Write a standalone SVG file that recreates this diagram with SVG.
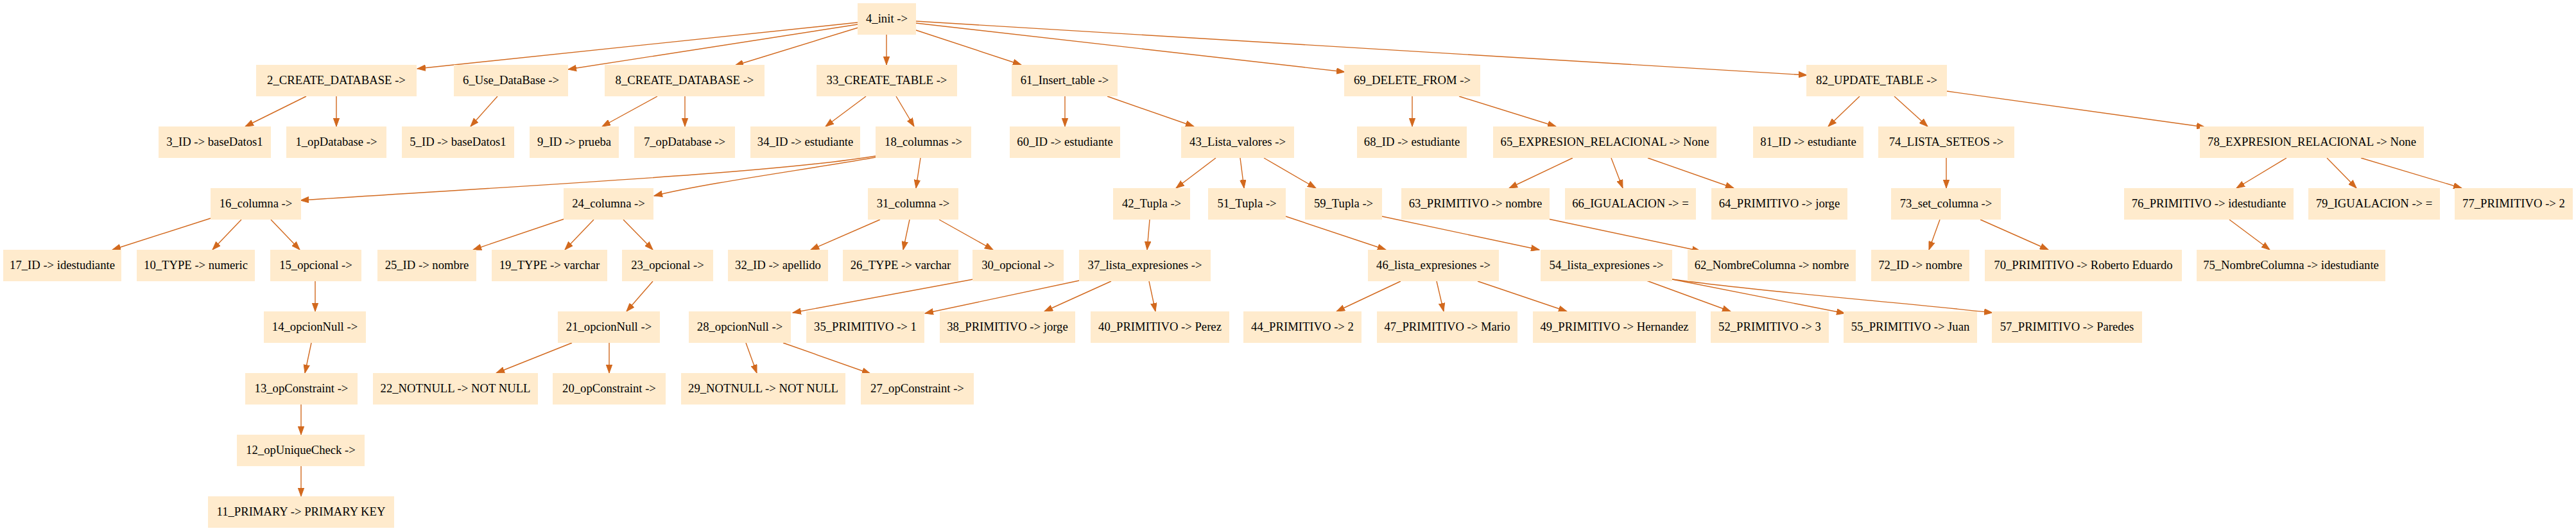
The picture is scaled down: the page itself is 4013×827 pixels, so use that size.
<svg xmlns="http://www.w3.org/2000/svg" width="4013" height="827" viewBox="0 0 4013 827">
<style>
.n rect{fill:#FFEBCD;stroke:none}
.n text{font-family:"Liberation Serif","Times New Roman",serif;font-size:18.67px;fill:#000;text-anchor:middle}
.e path{fill:none;stroke:#D2691E;stroke-width:1.4;marker-end:url(#a)}
</style>
<defs>
<marker id="a" markerUnits="userSpaceOnUse" markerWidth="14" markerHeight="10" refX="13" refY="5" orient="auto">
<path d="M0,0.3 L13,5 L0,9.7 z" fill="#D2691E" stroke="#D2691E" stroke-width="1"/>
</marker>
</defs>
<rect width="4013" height="827" fill="#fff"/>
<g id="edges" class="e">
<path d="M1336,35 L650,107"/>
<path d="M1336,38 L885,108"/>
<path d="M1337,43 L1145,102"/>
<path d="M1381,54 L1381,101"/>
<path d="M1427,47 L1591,101"/>
<path d="M1427,36 L2095,112"/>
<path d="M1427,33 L2815,117"/>
<path d="M477,150 L382,197"/>
<path d="M524,150 L524,197"/>
<path d="M775,150 L733,197"/>
<path d="M1024,150 L938,197"/>
<path d="M1067,150 L1067,197"/>
<path d="M1349,150 L1286,197"/>
<path d="M1396,150 L1424,197"/>
<path d="M1364,243 C1200,270 800,290 468,312"/>
<path d="M1364,245 C1250,265 1100,285 1019,305"/>
<path d="M1434,246 L1427,293"/>
<path d="M328,340 L175,389"/>
<path d="M376,342 L331,389"/>
<path d="M422,342 L467,389"/>
<path d="M879,341 L737,389"/>
<path d="M925,342 L880,389"/>
<path d="M971,342 L1017,389"/>
<path d="M1371,342 L1263,389"/>
<path d="M1417,342 L1407,389"/>
<path d="M1463,342 L1547,389"/>
<path d="M491,438 L491,485"/>
<path d="M485,534 L475,581"/>
<path d="M469,630 L469,677"/>
<path d="M469,726 L469,773"/>
<path d="M1017,438 L976,485"/>
<path d="M891,534 L773,581"/>
<path d="M949,534 L949,581"/>
<path d="M1516,435 L1235,487"/>
<path d="M1162,534 L1179,581"/>
<path d="M1220,534 L1356,582"/>
<path d="M1659,150 L1659,197"/>
<path d="M1725,150 L1860,197"/>
<path d="M1894,246 L1832,293"/>
<path d="M1932,246 L1938,293"/>
<path d="M1969,246 L2050,293"/>
<path d="M1791,342 L1787,389"/>
<path d="M2003,337 L2159,389"/>
<path d="M2153,337 L2398,389"/>
<path d="M1681,437 L1441,488"/>
<path d="M1731,438 L1627,485"/>
<path d="M1790,438 L1800,485"/>
<path d="M2182,438 L2082,485"/>
<path d="M2238,438 L2249,485"/>
<path d="M2302,438 L2441,485"/>
<path d="M2565,437 L2696,485"/>
<path d="M2605,435 L2874,488"/>
<path d="M2605,435 C2750,455 2950,470 3104,487"/>
<path d="M2200,150 L2200,197"/>
<path d="M2273,150 L2424,197"/>
<path d="M2450,246 L2351,293"/>
<path d="M2510,246 L2528,293"/>
<path d="M2567,246 L2701,293"/>
<path d="M2412,341 L2649,391"/>
<path d="M2897,150 L2848,197"/>
<path d="M2951,150 L3003,197"/>
<path d="M3033,142 L3435,198"/>
<path d="M3032,246 L3032,293"/>
<path d="M3562,246 L3484,293"/>
<path d="M3625,246 L3671,293"/>
<path d="M3678,246 L3835,293"/>
<path d="M3022,342 L3005,389"/>
<path d="M3085,342 L3191,389"/>
<path d="M3473,342 L3536,389"/>
</g>
<g id="n4" class="n"><rect x="1336" y="5" width="91" height="49"/><text x="1381.5" y="34.5">4_init -&gt;</text></g>
<g id="n2" class="n"><rect x="399" y="101" width="250" height="49"/><text x="524" y="130.5">2_CREATE_DATABASE -&gt;</text></g>
<g id="n6" class="n"><rect x="707" y="101" width="178" height="49"/><text x="796" y="130.5">6_Use_DataBase -&gt;</text></g>
<g id="n8" class="n"><rect x="942" y="101" width="249" height="49"/><text x="1066.5" y="130.5">8_CREATE_DATABASE -&gt;</text></g>
<g id="n33" class="n"><rect x="1272" y="101" width="219" height="49"/><text x="1381.5" y="130.5">33_CREATE_TABLE -&gt;</text></g>
<g id="n61" class="n"><rect x="1576" y="101" width="165" height="49"/><text x="1658.5" y="130.5">61_Insert_table -&gt;</text></g>
<g id="n69" class="n"><rect x="2094" y="101" width="212" height="49"/><text x="2200" y="130.5">69_DELETE_FROM -&gt;</text></g>
<g id="n82" class="n"><rect x="2814" y="101" width="219" height="49"/><text x="2923.5" y="130.5">82_UPDATE_TABLE -&gt;</text></g>
<g id="n3" class="n"><rect x="247" y="197" width="175" height="49"/><text x="334.5" y="226.5">3_ID -&gt; baseDatos1</text></g>
<g id="n1" class="n"><rect x="446" y="197" width="156" height="49"/><text x="524" y="226.5">1_opDatabase -&gt;</text></g>
<g id="n5" class="n"><rect x="626" y="197" width="175" height="49"/><text x="713.5" y="226.5">5_ID -&gt; baseDatos1</text></g>
<g id="n9" class="n"><rect x="825" y="197" width="139" height="49"/><text x="894.5" y="226.5">9_ID -&gt; prueba</text></g>
<g id="n7" class="n"><rect x="988" y="197" width="157" height="49"/><text x="1066.5" y="226.5">7_opDatabase -&gt;</text></g>
<g id="n34" class="n"><rect x="1169" y="197" width="171" height="49"/><text x="1254.5" y="226.5">34_ID -&gt; estudiante</text></g>
<g id="n18" class="n"><rect x="1364" y="197" width="149" height="49"/><text x="1438.5" y="226.5">18_columnas -&gt;</text></g>
<g id="n60" class="n"><rect x="1573" y="197" width="172" height="49"/><text x="1659" y="226.5">60_ID -&gt; estudiante</text></g>
<g id="n43" class="n"><rect x="1840" y="197" width="176" height="49"/><text x="1928" y="226.5">43_Lista_valores -&gt;</text></g>
<g id="n68" class="n"><rect x="2114" y="197" width="171" height="49"/><text x="2199.5" y="226.5">68_ID -&gt; estudiante</text></g>
<g id="n65" class="n"><rect x="2326" y="197" width="348" height="49"/><text x="2500" y="226.5">65_EXPRESION_RELACIONAL -&gt; None</text></g>
<g id="n81" class="n"><rect x="2731" y="197" width="172" height="49"/><text x="2817" y="226.5">81_ID -&gt; estudiante</text></g>
<g id="n74" class="n"><rect x="2926" y="197" width="212" height="49"/><text x="3032" y="226.5">74_LISTA_SETEOS -&gt;</text></g>
<g id="n78" class="n"><rect x="3427" y="197" width="349" height="49"/><text x="3601.5" y="226.5">78_EXPRESION_RELACIONAL -&gt; None</text></g>
<g id="n16" class="n"><rect x="328" y="293" width="141" height="49"/><text x="398.5" y="322.5">16_columna -&gt;</text></g>
<g id="n24" class="n"><rect x="878" y="293" width="140" height="49"/><text x="948" y="322.5">24_columna -&gt;</text></g>
<g id="n31" class="n"><rect x="1352" y="293" width="141" height="49"/><text x="1422.5" y="322.5">31_columna -&gt;</text></g>
<g id="n42" class="n"><rect x="1734" y="293" width="120" height="49"/><text x="1794" y="322.5">42_Tupla -&gt;</text></g>
<g id="n51" class="n"><rect x="1882" y="293" width="121" height="49"/><text x="1942.5" y="322.5">51_Tupla -&gt;</text></g>
<g id="n59" class="n"><rect x="2033" y="293" width="120" height="49"/><text x="2093" y="322.5">59_Tupla -&gt;</text></g>
<g id="n63" class="n"><rect x="2183" y="293" width="231" height="49"/><text x="2298.5" y="322.5">63_PRIMITIVO -&gt; nombre</text></g>
<g id="n66" class="n"><rect x="2438" y="293" width="204" height="49"/><text x="2540" y="322.5">66_IGUALACION -&gt; =</text></g>
<g id="n64" class="n"><rect x="2666" y="293" width="212" height="49"/><text x="2772" y="322.5">64_PRIMITIVO -&gt; jorge</text></g>
<g id="n73" class="n"><rect x="2946" y="293" width="171" height="49"/><text x="3031.5" y="322.5">73_set_columna -&gt;</text></g>
<g id="n76" class="n"><rect x="3309" y="293" width="264" height="49"/><text x="3441" y="322.5">76_PRIMITIVO -&gt; idestudiante</text></g>
<g id="n79" class="n"><rect x="3596" y="293" width="205" height="49"/><text x="3698.5" y="322.5">79_IGUALACION -&gt; =</text></g>
<g id="n77" class="n"><rect x="3824" y="293" width="184" height="49"/><text x="3916" y="322.5">77_PRIMITIVO -&gt; 2</text></g>
<g id="n17" class="n"><rect x="5" y="389" width="184" height="49"/><text x="97" y="418.5">17_ID -&gt; idestudiante</text></g>
<g id="n10" class="n"><rect x="213" y="389" width="184" height="49"/><text x="305" y="418.5">10_TYPE -&gt; numeric</text></g>
<g id="n15" class="n"><rect x="421" y="389" width="142" height="49"/><text x="492" y="418.5">15_opcional -&gt;</text></g>
<g id="n25" class="n"><rect x="588" y="389" width="154" height="49"/><text x="665" y="418.5">25_ID -&gt; nombre</text></g>
<g id="n19" class="n"><rect x="766" y="389" width="180" height="49"/><text x="856" y="418.5">19_TYPE -&gt; varchar</text></g>
<g id="n23" class="n"><rect x="969" y="389" width="142" height="49"/><text x="1040" y="418.5">23_opcional -&gt;</text></g>
<g id="n32" class="n"><rect x="1134" y="389" width="156" height="49"/><text x="1212" y="418.5">32_ID -&gt; apellido</text></g>
<g id="n26" class="n"><rect x="1313" y="389" width="180" height="49"/><text x="1403" y="418.5">26_TYPE -&gt; varchar</text></g>
<g id="n30" class="n"><rect x="1515" y="389" width="142" height="49"/><text x="1586" y="418.5">30_opcional -&gt;</text></g>
<g id="n37" class="n"><rect x="1681" y="389" width="205" height="49"/><text x="1783.5" y="418.5">37_lista_expresiones -&gt;</text></g>
<g id="n46" class="n"><rect x="2131" y="389" width="204" height="49"/><text x="2233" y="418.5">46_lista_expresiones -&gt;</text></g>
<g id="n54" class="n"><rect x="2400" y="389" width="205" height="49"/><text x="2502.5" y="418.5">54_lista_expresiones -&gt;</text></g>
<g id="n62" class="n"><rect x="2629" y="389" width="262" height="49"/><text x="2760" y="418.5">62_NombreColumna -&gt; nombre</text></g>
<g id="n72" class="n"><rect x="2915" y="389" width="153" height="49"/><text x="2991.5" y="418.5">72_ID -&gt; nombre</text></g>
<g id="n70" class="n"><rect x="3092" y="389" width="307" height="49"/><text x="3245.5" y="418.5">70_PRIMITIVO -&gt; Roberto Eduardo</text></g>
<g id="n75" class="n"><rect x="3422" y="389" width="294" height="49"/><text x="3569" y="418.5">75_NombreColumna -&gt; idestudiante</text></g>
<g id="n14" class="n"><rect x="411" y="485" width="159" height="49"/><text x="490.5" y="514.5">14_opcionNull -&gt;</text></g>
<g id="n21" class="n"><rect x="869" y="485" width="159" height="49"/><text x="948.5" y="514.5">21_opcionNull -&gt;</text></g>
<g id="n28" class="n"><rect x="1073" y="485" width="159" height="49"/><text x="1152.5" y="514.5">28_opcionNull -&gt;</text></g>
<g id="n35" class="n"><rect x="1256" y="485" width="184" height="49"/><text x="1348" y="514.5">35_PRIMITIVO -&gt; 1</text></g>
<g id="n38" class="n"><rect x="1464" y="485" width="211" height="49"/><text x="1569.5" y="514.5">38_PRIMITIVO -&gt; jorge</text></g>
<g id="n40" class="n"><rect x="1699" y="485" width="216" height="49"/><text x="1807" y="514.5">40_PRIMITIVO -&gt; Perez</text></g>
<g id="n44" class="n"><rect x="1937" y="485" width="184" height="49"/><text x="2029" y="514.5">44_PRIMITIVO -&gt; 2</text></g>
<g id="n47" class="n"><rect x="2145" y="485" width="219" height="49"/><text x="2254.5" y="514.5">47_PRIMITIVO -&gt; Mario</text></g>
<g id="n49" class="n"><rect x="2388" y="485" width="254" height="49"/><text x="2515" y="514.5">49_PRIMITIVO -&gt; Hernandez</text></g>
<g id="n52" class="n"><rect x="2665" y="485" width="184" height="49"/><text x="2757" y="514.5">52_PRIMITIVO -&gt; 3</text></g>
<g id="n55" class="n"><rect x="2872" y="485" width="208" height="49"/><text x="2976" y="514.5">55_PRIMITIVO -&gt; Juan</text></g>
<g id="n57" class="n"><rect x="3103" y="485" width="234" height="49"/><text x="3220" y="514.5">57_PRIMITIVO -&gt; Paredes</text></g>
<g id="n13" class="n"><rect x="382" y="581" width="175" height="49"/><text x="469.5" y="610.5">13_opConstraint -&gt;</text></g>
<g id="n22" class="n"><rect x="581" y="581" width="257" height="49"/><text x="709.5" y="610.5">22_NOTNULL -&gt; NOT NULL</text></g>
<g id="n20" class="n"><rect x="861" y="581" width="176" height="49"/><text x="949" y="610.5">20_opConstraint -&gt;</text></g>
<g id="n29" class="n"><rect x="1061" y="581" width="256" height="49"/><text x="1189" y="610.5">29_NOTNULL -&gt; NOT NULL</text></g>
<g id="n27" class="n"><rect x="1341" y="581" width="176" height="49"/><text x="1429" y="610.5">27_opConstraint -&gt;</text></g>
<g id="n12" class="n"><rect x="369" y="677" width="199" height="49"/><text x="468.5" y="706.5">12_opUniqueCheck -&gt;</text></g>
<g id="n11" class="n"><rect x="324" y="773" width="290" height="49"/><text x="469" y="802.5">11_PRIMARY -&gt; PRIMARY KEY</text></g>
</svg>
